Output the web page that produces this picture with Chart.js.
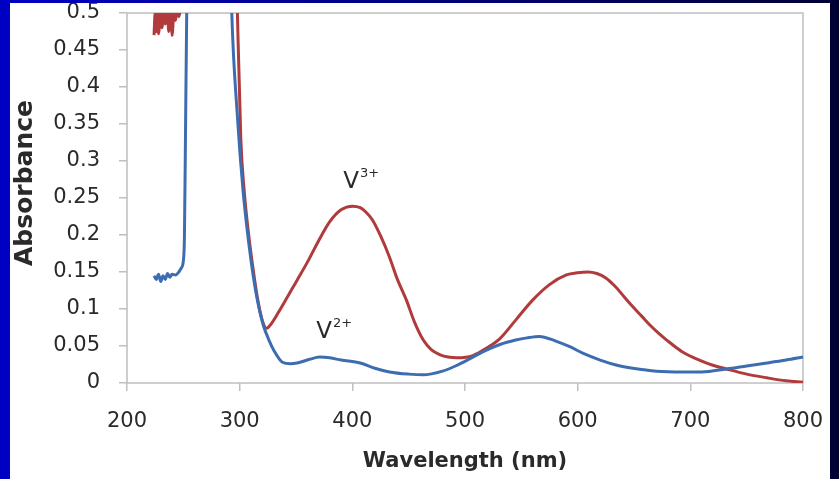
<!DOCTYPE html>
<html>
<head>
<meta charset="utf-8">
<script src="https://cdn.jsdelivr.net/npm/chart.js@4/dist/chart.umd.min.js"></script>
<style>
  html, body { margin: 0; padding: 0; }
  body { width: 839px; height: 479px; position: relative; overflow: hidden;
         background: linear-gradient(to right, #0000c4, #000035); }
  #box { position: absolute; left: 10px; top: 3px; width: 820px; height: 476px; background: #fff; }
</style>
</head>
<body>
<div id="box"><canvas id="uvChart"></canvas></div>
<script>
// V2+ spectrum (blue)
const v2Wavelength = [224, 226, 228, 230, 232, 234, 236, 238, 240, 243, 246, 248, 250, 251, 252, 253, 255, 270, 290, 293, 298, 303, 308, 312, 316, 321, 326, 330, 338, 345, 351, 362, 371, 380, 390, 407, 420, 433, 450, 463, 480, 493, 507, 520, 531, 545, 555, 566, 580, 593, 605, 620, 635, 649, 670, 693, 710, 732, 750, 768, 785, 800];
const v2Absorbance = [0.145, 0.14, 0.147, 0.137, 0.145, 0.14, 0.148, 0.143, 0.147, 0.146, 0.15, 0.155, 0.165, 0.2, 0.35, 0.5, 0.7, 0.8, 0.7, 0.5, 0.36, 0.26, 0.19, 0.145, 0.11, 0.078, 0.058, 0.045, 0.028, 0.026, 0.027, 0.032, 0.035, 0.034, 0.031, 0.027, 0.02, 0.015, 0.012, 0.011, 0.016, 0.024, 0.035, 0.045, 0.052, 0.058, 0.061, 0.063, 0.057, 0.049, 0.04, 0.031, 0.024, 0.02, 0.016, 0.015, 0.015, 0.019, 0.023, 0.027, 0.031, 0.035];

// V3+ spectrum (red)
const v3Wavelength = [224, 225, 226, 227, 228, 230, 231, 233, 234, 236, 237, 239, 240, 242, 243, 245, 246, 248, 249, 251, 270, 295, 298, 301, 304, 308, 312, 316, 320, 324, 328, 335, 343, 351, 360, 370, 380, 390, 400, 407, 412, 418, 425, 433, 440, 448, 455, 463, 470, 478, 485, 493, 507, 520, 531, 545, 560, 575, 590, 600, 609, 617, 625, 633, 641, 649, 657, 665, 672, 679, 693, 708, 720, 732, 750, 768, 785, 800];
const v3Absorbance = [0.47, 0.5, 0.475, 0.51, 0.472, 0.51, 0.48, 0.51, 0.485, 0.51, 0.475, 0.51, 0.47, 0.51, 0.49, 0.51, 0.495, 0.51, 0.52, 0.6, 0.8, 0.7, 0.5, 0.33, 0.26, 0.2, 0.153, 0.113, 0.085, 0.074, 0.08, 0.097, 0.118, 0.139, 0.163, 0.192, 0.218, 0.234, 0.239, 0.237, 0.231, 0.22, 0.199, 0.17, 0.14, 0.112, 0.083, 0.058, 0.045, 0.038, 0.035, 0.034, 0.037, 0.048, 0.06, 0.085, 0.112, 0.133, 0.146, 0.149, 0.15, 0.148, 0.142, 0.131, 0.117, 0.103, 0.09, 0.077, 0.067, 0.058, 0.042, 0.031, 0.024, 0.019, 0.012, 0.007, 0.003, 0.001];

const xTicks = [200, 300, 400, 500, 600, 700, 800];
const yTicks = [0, 0.05, 0.1, 0.15, 0.2, 0.25, 0.3, 0.35, 0.4, 0.45, 0.5];

// curve labels, anchored in data coordinates
const curveLabels = [
  { text: 'V', sup: '3+', x: 399, y: 0.272 },
  { text: 'V', sup: '2+', x: 375, y: 0.069 }
];

const toPoints = (xs, ys) => xs.map((x, i) => ({ x, y: ys[i] }));

const tickColor = '#bfbfbf';
const textColor = '#2a2a2a';

const extras = {
  id: 'extras',
  beforeDatasetsDraw(chart) {
    const { ctx, chartArea: a } = chart;
    ctx.save();
    ctx.strokeStyle = tickColor;
    ctx.lineWidth = 1.5;
    ctx.strokeRect(a.left, a.top, a.right - a.left, a.bottom - a.top);
    ctx.restore();
  },
  afterDatasetsDraw(chart) {
    const { ctx, scales } = chart;
    ctx.save();
    ctx.fillStyle = textColor;
    ctx.textBaseline = 'middle';
    curveLabels.forEach(l => {
      const px = scales.x.getPixelForValue(l.x);
      const py = scales.y.getPixelForValue(l.y);
      ctx.font = '23px "DejaVu Sans"';
      ctx.textAlign = 'center';
      ctx.fillText(l.text, px, py);
      const w = ctx.measureText(l.text).width;
      ctx.font = '13px "DejaVu Sans"';
      ctx.textAlign = 'left';
      ctx.fillText(l.sup, px + w / 2 + 1, py - 8);
    });
    // y axis title
    ctx.translate(15, 180);
    ctx.rotate(-Math.PI / 2);
    ctx.textAlign = 'center';
    ctx.font = 'bold 25px "DejaVu Sans"';
    ctx.fillText('Absorbance', 0, 0);
    ctx.restore();
  }
};

new Chart(document.getElementById('uvChart'), {
  type: 'line',
  data: {
    datasets: [
      { label: 'V2+', data: toPoints(v2Wavelength, v2Absorbance), borderColor: '#3d6db0', borderWidth: 3,
        pointRadius: 0, cubicInterpolationMode: 'monotone', fill: false },
      { label: 'V3+', data: toPoints(v3Wavelength, v3Absorbance), borderColor: '#b03a3c', borderWidth: 3,
        pointRadius: 0, cubicInterpolationMode: 'monotone', fill: false }
    ]
  },
  options: {
    responsive: true,
    maintainAspectRatio: false,
    animation: false,
    layout: { padding: { top: 10, right: 27, bottom: 0, left: 0 } },
    plugins: { legend: { display: false }, tooltip: { enabled: false } },
    scales: {
      x: {
        type: 'linear', min: 200, max: 800,
        afterBuildTicks: s => { s.ticks = xTicks.map(v => ({ value: v })); },
        afterFit: s => { s.height = 96; s.paddingLeft = 0; s.paddingRight = 0; },
        grid: { drawOnChartArea: false, drawTicks: true, tickLength: 8, color: tickColor, lineWidth: 1.5 },
        border: { display: false },
        ticks: { padding: 18, color: textColor, font: { family: 'DejaVu Sans', size: 21 }, maxRotation: 0 },
        title: { display: true, text: 'Wavelength (nm)', color: textColor,
                 font: { family: 'DejaVu Sans', size: 21, weight: 'bold' }, padding: { top: 0, bottom: 5 } }
      },
      y: {
        min: 0, max: 0.5,
        afterBuildTicks: s => { s.ticks = yTicks.map(v => ({ value: v })); },
        afterFit: s => { s.width = 117; s.paddingTop = 0; s.paddingBottom = 0; },
        grid: { drawOnChartArea: false, drawTicks: true, tickLength: 8, color: tickColor, lineWidth: 1.5 },
        border: { display: false },
        ticks: { padding: 19, color: textColor, font: { family: 'DejaVu Sans', size: 21 },
                 callback: v => String(Math.round(v * 100) / 100) }
      }
    }
  },
  plugins: [extras]
});
</script>
</body>
</html>
